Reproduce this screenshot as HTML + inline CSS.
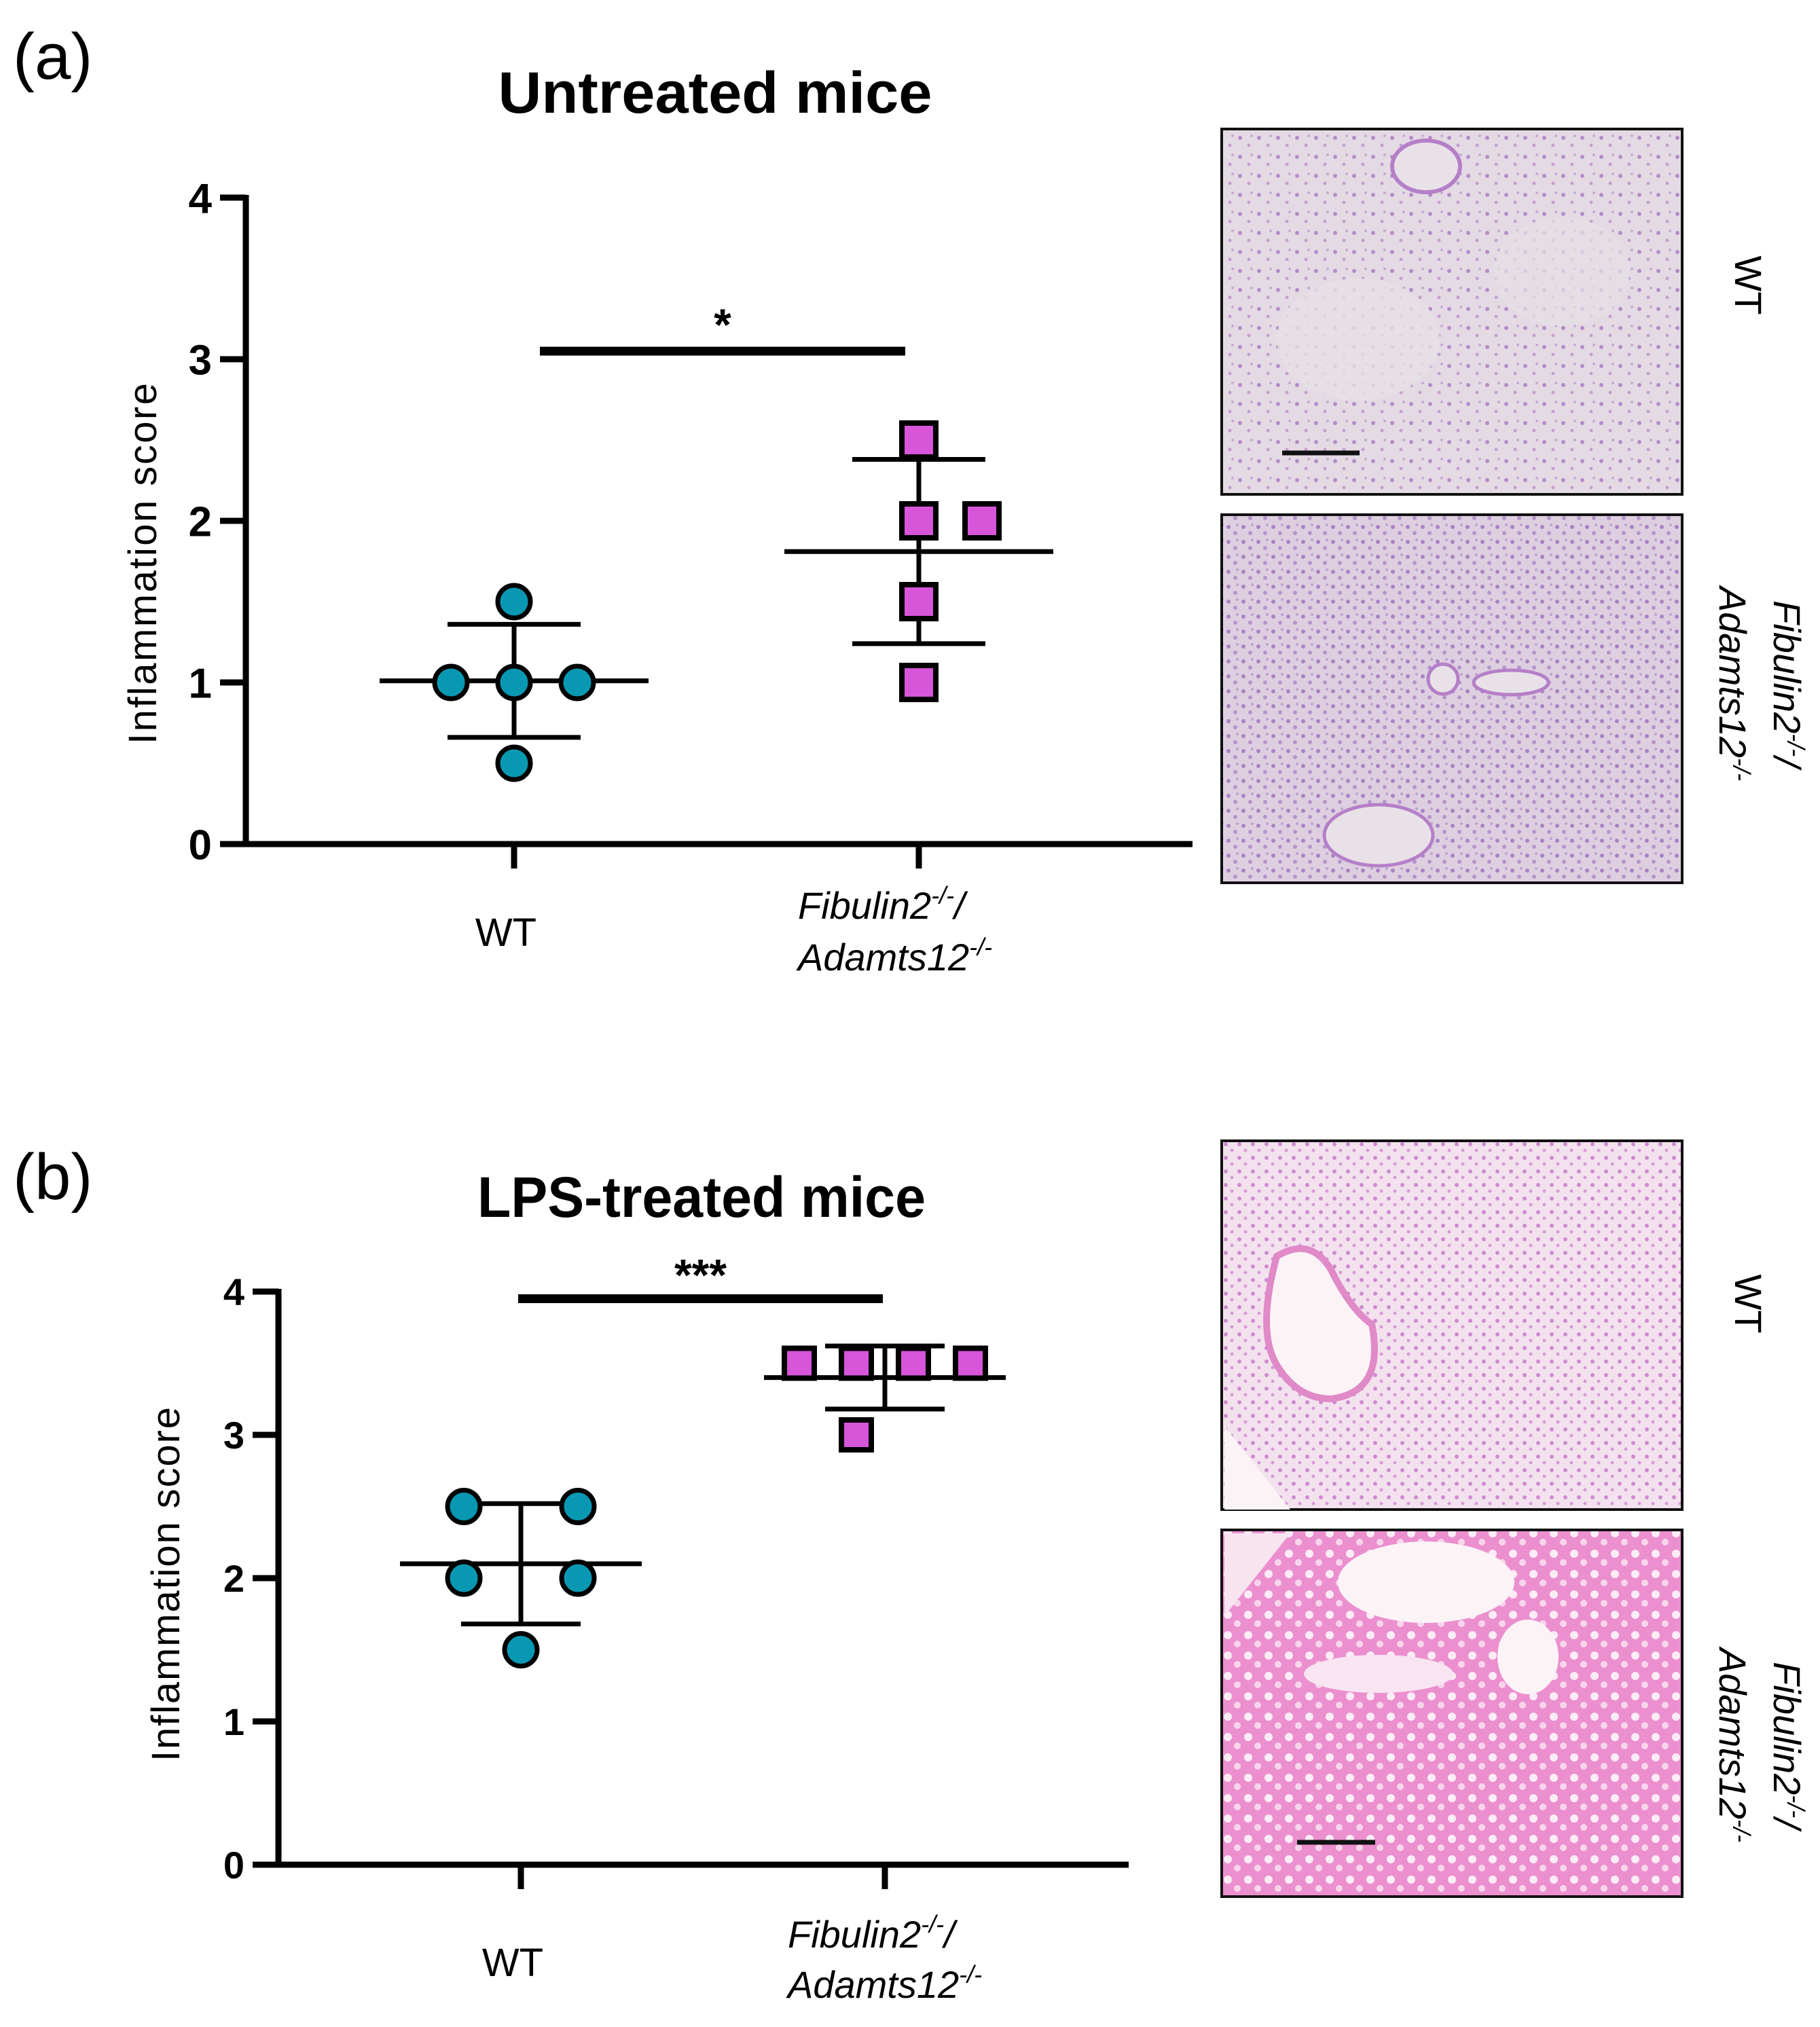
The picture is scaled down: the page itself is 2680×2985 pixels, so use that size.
<!DOCTYPE html>
<html><head><meta charset="utf-8"><style>
html,body{margin:0;padding:0;background:#fff}
svg{display:block}
text{font-family:"Liberation Sans",Arial,sans-serif}
</style></head><body>
<svg id="fig" width="2680" height="2985" viewBox="0 0 2680 2985" xmlns="http://www.w3.org/2000/svg">
<defs>
<pattern id="texA" width="28" height="28" patternUnits="userSpaceOnUse"><rect width="28" height="28" fill="#e4dae4"/><circle cx="6" cy="7" r="3" fill="#b58cc8"/><circle cx="19" cy="18" r="2.5" fill="#c39fd0"/><circle cx="23" cy="4" r="2" fill="#c8a8d4"/></pattern>
<pattern id="texA2" width="22" height="22" patternUnits="userSpaceOnUse"><rect width="22" height="22" fill="#ddcfe0"/><circle cx="5" cy="6" r="3" fill="#a982c4"/><circle cx="15" cy="15" r="3" fill="#b694cc"/><circle cx="18" cy="3" r="2" fill="#bfa0d0"/></pattern>
<pattern id="texB1" width="20" height="20" patternUnits="userSpaceOnUse"><rect width="20" height="20" fill="#f3e2ee"/><circle cx="5" cy="5" r="3" fill="#cf8ad0"/><circle cx="14" cy="14" r="2.5" fill="#d89ad8"/></pattern>
<pattern id="texB2" width="30" height="30" patternUnits="userSpaceOnUse"><rect width="30" height="30" fill="#ec8fcf"/><circle cx="8" cy="8" r="6" fill="#fbecf6"/><circle cx="22" cy="21" r="5" fill="#f7d6ec"/></pattern>
</defs>

<!-- Panel a -->
<text x="19" y="116" font-size="96">(a)</text>
<text x="1053" y="166" font-size="86" font-weight="bold" text-anchor="middle" textLength="639" lengthAdjust="spacingAndGlyphs">Untreated mice</text>
<g id="chartA"></g>

<!-- Panel b -->
<text x="19" y="1766" font-size="96">(b)</text>
<text x="1033" y="1792" font-size="84" font-weight="bold" text-anchor="middle" textLength="660" lengthAdjust="spacingAndGlyphs">LPS-treated mice</text>
<g id="chartB"></g>

<!-- Histology images -->
<g>
<rect x="1799" y="190" width="678" height="538" fill="url(#texA)" stroke="#111" stroke-width="4"/>
<ellipse cx="2100" cy="245" rx="50" ry="38" fill="#e8e2e8" stroke="#b57fc8" stroke-width="6"/>
<ellipse cx="2000" cy="500" rx="120" ry="90" fill="#e6e1e6" opacity="0.8"/>
<ellipse cx="2300" cy="400" rx="100" ry="80" fill="#e6e1e6" opacity="0.7"/>
<line x1="1888" y1="667" x2="2002" y2="667" stroke="#111" stroke-width="7"/>
</g>
<g>
<rect x="1799" y="758" width="678" height="542" fill="url(#texA2)" stroke="#111" stroke-width="4"/>
<ellipse cx="2030" cy="1230" rx="80" ry="45" fill="#e8e2e8" stroke="#b57fc8" stroke-width="5"/>
<ellipse cx="2125" cy="1000" rx="22" ry="22" fill="#e8e2e8" stroke="#b57fc8" stroke-width="5"/>
<ellipse cx="2225" cy="1005" rx="55" ry="18" fill="#e8e2e8" stroke="#b57fc8" stroke-width="5"/>
</g>
<g>
<rect x="1799" y="1680" width="678" height="543" fill="url(#texB1)" stroke="#111" stroke-width="4"/>
<path d="M1880,1850 Q1930,1820 1960,1870 Q1990,1930 2020,1950 Q2040,2050 1960,2060 Q1910,2060 1880,2010 Q1850,1960 1880,1850Z" fill="#fbf3f6" stroke="#e08ac8" stroke-width="10"/>
<path d="M1803,2100 L1900,2223 L1803,2223Z" fill="#fbf3f6"/>
</g>
<g>
<rect x="1799" y="2253" width="678" height="540" fill="url(#texB2)" stroke="#111" stroke-width="4"/>
<ellipse cx="2100" cy="2330" rx="130" ry="60" fill="#fbf3f6"/>
<ellipse cx="2030" cy="2465" rx="110" ry="28" fill="#f9e4f1"/>
<ellipse cx="2250" cy="2440" rx="45" ry="55" fill="#fbf3f6"/>
<path d="M1803,2258 L1900,2258 L1803,2380Z" fill="#f7e4ef"/>
<line x1="1910" y1="2713" x2="2025" y2="2713" stroke="#111" stroke-width="7"/>
</g>

<!-- Image row labels -->
<text transform="translate(2555,420) rotate(90)" font-size="56" text-anchor="middle">WT</text>
<text transform="translate(2612,1007) rotate(90)" font-size="56" font-style="italic" text-anchor="middle">Fibulin2<tspan font-size="36" dy="-20">-/-</tspan><tspan dy="20">/</tspan></text>
<text transform="translate(2532,1007) rotate(90)" font-size="56" font-style="italic" text-anchor="middle">Adamts12<tspan font-size="36" dy="-20">-/-</tspan></text>
<text transform="translate(2555,1920) rotate(90)" font-size="56" text-anchor="middle">WT</text>
<text transform="translate(2612,2570) rotate(90)" font-size="56" font-style="italic" text-anchor="middle">Fibulin2<tspan font-size="36" dy="-20">-/-</tspan><tspan dy="20">/</tspan></text>
<text transform="translate(2532,2570) rotate(90)" font-size="56" font-style="italic" text-anchor="middle">Adamts12<tspan font-size="36" dy="-20">-/-</tspan></text>
</svg>

<script>
// ---- Panel a data ----
const aYTicks = [0, 1, 2, 3, 4];
const aWTValues = [1.5, 1, 1, 1, 0.5];
const aWTSlots = [0, -1, 0, 1, 0];
const aKOValues = [2.5, 2, 2, 1.5, 1];
const aKOSlots = [0, 0, 1, 0, 0];
const aWTMean = [1.01];
const aWTSD = [0.35];
const aKOMean = [1.81];
const aKOSD = [0.57];
const aSigBar = [3.05];
const aSigLabel = ["*"];

// ---- Panel b data ----
const bYTicks = [0, 1, 2, 3, 4];
const bWTValues = [2.5, 2.5, 2, 2, 1.5];
const bWTSlots = [-1, 1, -1, 1, 0];
const bKOValues = [3.5, 3.5, 3.5, 3.5, 3];
const bKOSlots = [-1.5, -0.5, 0.5, 1.5, -0.5];
const bWTMean = [2.1];
const bWTSD = [0.42];
const bKOMean = [3.4];
const bKOSD = [0.22];
const bSigBar = [3.95];
const bSigLabel = ["***"];

const NS = "http://www.w3.org/2000/svg";
function mk(tag, attrs, parent) {
  const e = document.createElementNS(NS, tag);
  for (const k in attrs) e.setAttribute(k, attrs[k]);
  parent.appendChild(e);
  return e;
}

function drawChart(g, cfg) {
  const y = v => cfg.y0 - v * cfg.unit;
  const ya = mk("line", {x1: cfg.ax, y1: y(4) - 4, x2: cfg.ax, y2: cfg.y0 + 4, stroke: "#000", "stroke-width": 9}, g);
  
  
  const xa = mk("line", {x1: cfg.ax - 4, y1: cfg.y0, x2: cfg.xEnd, y2: cfg.y0, stroke: "#000", "stroke-width": 9}, g);
  
  
  cfg.ticks.forEach(t => {
    const tl = mk("line", {x1: cfg.ax - 38, y1: y(t), x2: cfg.ax, y2: y(t), stroke: "#000", "stroke-width": 9}, g);
    
    
    const tx = mk("text", {x: cfg.ax - 50, y: y(t) + cfg.tickFs * 0.36, "font-size": cfg.tickFs, "font-weight": "bold", "text-anchor": "end"}, g);
    tx.textContent = t;
    
    
  });
  [cfg.xWT, cfg.xKO].forEach(xx => {
    const xt = mk("line", {x1: xx, y1: cfg.y0, x2: xx, y2: cfg.y0 + 36, stroke: "#000", "stroke-width": 9}, g);
    
    
  });
  const yl = mk("text", {transform: `translate(${cfg.ylx},${cfg.yly}) rotate(-90)`, "font-size": 58, "text-anchor": "middle", "xml:space": "preserve", textLength: cfg.ylLen, lengthAdjust: "spacing"}, g);
  yl.textContent = "Inflammation  score";
  
  
  const wl = mk("text", {x: cfg.xWT - 12, y: cfg.wtLabelY, "font-size": 58, "text-anchor": "middle"}, g);
  wl.textContent = "WT";
  
  
  const k1 = mk("text", {x: cfg.koLabelX, y: cfg.koLabelY, "font-size": 56, "font-style": "italic"}, g);
  k1.innerHTML = 'Fibulin2<tspan font-size="36" dy="-22">-/-</tspan><tspan dy="22">/</tspan>';
  
  
  const k2 = mk("text", {x: cfg.koLabelX, y: cfg.koLabelY + cfg.koLineGap, "font-size": 56, "font-style": "italic"}, g);
  k2.innerHTML = 'Adamts12<tspan font-size="36" dy="-22">-/-</tspan>';
  
  
  const sb = mk("line", {x1: cfg.sigX1, y1: y(cfg.sig[0]), x2: cfg.sigX2, y2: y(cfg.sig[0]), stroke: "#000", "stroke-width": 13}, g);
  
  
  const st = mk("text", {x: (cfg.sigX1 + cfg.sigX2) / 2, y: y(cfg.sig[0]) + cfg.starDy, "font-size": 66, "font-weight": "bold", "text-anchor": "middle"}, g);
  st.textContent = cfg.sigLabel[0];
  
  

  function group(cx, mean, sd, vals, slots, kind, name) {
    const eb = mk("g", {}, g);
    
    
    mk("line", {x1: cx, y1: y(mean + sd), x2: cx, y2: y(mean - sd), stroke: "#000", "stroke-width": 7}, eb);
    mk("line", {x1: cx - cfg.meanHW, y1: y(mean), x2: cx + cfg.meanHW, y2: y(mean), stroke: "#000", "stroke-width": 7}, eb);
    mk("line", {x1: cx - cfg.sdHW, y1: y(mean + sd), x2: cx + cfg.sdHW, y2: y(mean + sd), stroke: "#000", "stroke-width": 7}, eb);
    mk("line", {x1: cx - cfg.sdHW, y1: y(mean - sd), x2: cx + cfg.sdHW, y2: y(mean - sd), stroke: "#000", "stroke-width": 7}, eb);
    vals.forEach((v, i) => {
      const px = cx + slots[i] * cfg.slot;
      let m;
      if (kind === "circle") {
        m = mk("circle", {cx: px, cy: y(v), r: cfg.r, fill: "#0898b2", stroke: "#000", "stroke-width": 7}, g);
      } else {
        m = mk("rect", {x: px - cfg.sq / 2, y: y(v) - cfg.sq / 2, width: cfg.sq, height: cfg.sq, fill: "#d655d9", stroke: "#000", "stroke-width": 8}, g);
      }
      
      
    });
  }
  group(cfg.xWT, cfg.wtMean[0], cfg.wtSD[0], cfg.wtVals, cfg.wtSlots, "circle", "wt");
  group(cfg.xKO, cfg.koMean[0], cfg.koSD[0], cfg.koVals, cfg.koSlots, "square", "ko");
}

drawChart(document.getElementById("chartA"), {
  ax: 362, y0: 1243, unit: 238, xEnd: 1756, xWT: 757, xKO: 1353,
  ticks: aYTicks, tickFs: 62, ylx: 230, yly: 830, ylLen: 532,
  wtLabelY: 1393, koLabelX: 1175, koLabelY: 1353, koLineGap: 76,
  sig: aSigBar, sigLabel: aSigLabel, sigX1: 795, sigX2: 1333, starDy: -16,
  wtMean: aWTMean, wtSD: aWTSD, wtVals: aWTValues, wtSlots: aWTSlots,
  koMean: aKOMean, koSD: aKOSD, koVals: aKOValues, koSlots: aKOSlots,
  meanHW: 198, sdHW: 98, slot: 93, r: 24, sq: 50
});
drawChart(document.getElementById("chartB"), {
  ax: 410, y0: 2746, unit: 211, xEnd: 1662, xWT: 767, xKO: 1303,
  ticks: bYTicks, tickFs: 56, ylx: 264, yly: 2333, ylLen: 522,
  wtLabelY: 2910, koLabelX: 1160, koLabelY: 2868, koLineGap: 74,
  sig: bSigBar, sigLabel: bSigLabel, sigX1: 763, sigX2: 1300, starDy: -12,
  wtMean: bWTMean, wtSD: bWTSD, wtVals: bWTValues, wtSlots: bWTSlots,
  koMean: bKOMean, koSD: bKOSD, koVals: bKOValues, koSlots: bKOSlots,
  meanHW: 178, sdHW: 88, slot: 84, r: 24, sq: 44
});
</script>
</body></html>
